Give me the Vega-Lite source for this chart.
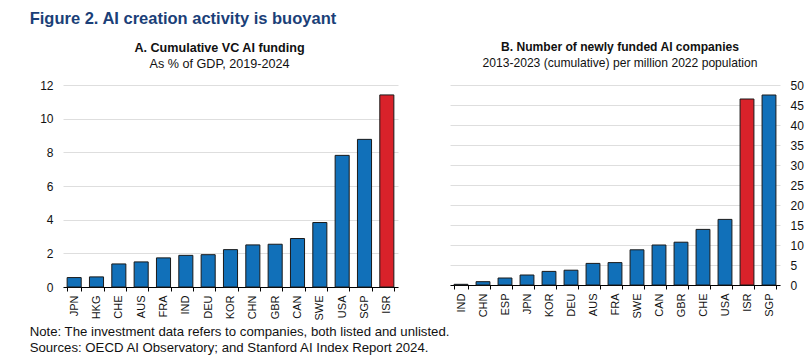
{
  "$schema": "https://vega.github.io/schema/vega-lite/v6.json",
  "background": "white",
  "padding": {"left": 29, "top": 11, "right": 5, "bottom": 2},
  "config": {
    "font": "Liberation Sans",
    "view": {"stroke": null},
    "axis": {"labelFont": "Liberation Sans", "labelFontSize": 11, "labelColor": "#111", "gridColor": "#dedede", "gridWidth": 1},
    "title": {"font": "Liberation Sans"}
  },
  "title": {
    "text": "Figure 2. AI creation activity is buoyant",
    "anchor": "start",
    "fontSize": 16.5,
    "fontWeight": "bold",
    "color": "#1b3f78",
    "offset": 13
  },
  "vconcat": [
    {
      "title": {
        "text": ["Note: The investment data refers to companies, both listed and unlisted.", "Sources: OECD AI Observatory; and Stanford AI Index Report 2024."],
        "orient": "bottom",
        "anchor": "start",
        "fontSize": 13.2,
        "fontWeight": "normal",
        "color": "#111",
        "lineHeight": 16,
        "offset": 6,
        "dx": -10
      },
      "spacing": 46,
      "hconcat": [
        {
          "width": 335,
          "height": 202,
          "title": {
            "text": "A. Cumulative VC AI funding",
            "subtitle": "As % of GDP, 2019-2024",
            "anchor": "middle",
            "frame": "group",
            "fontSize": 12.6,
            "fontWeight": "bold",
            "color": "#111",
            "subtitleFont": "Liberation Sans",
            "subtitleFontSize": 12.6,
            "subtitleColor": "#111",
            "subtitlePadding": 4,
            "offset": 8,
            "dx": -11
          },
          "data": {"values": [
            {"country": "JPN", "value": 0.56},
            {"country": "HKG", "value": 0.6},
            {"country": "CHE", "value": 1.37},
            {"country": "AUS", "value": 1.49},
            {"country": "FRA", "value": 1.73},
            {"country": "IND", "value": 1.88},
            {"country": "DEU", "value": 1.92},
            {"country": "KOR", "value": 2.22},
            {"country": "CHN", "value": 2.5},
            {"country": "GBR", "value": 2.54},
            {"country": "CAN", "value": 2.88},
            {"country": "SWE", "value": 3.83},
            {"country": "USA", "value": 7.82},
            {"country": "SGP", "value": 8.77},
            {"country": "ISR", "value": 11.41}
          ]},
          "mark": {"type": "bar", "stroke": "#1a1a1a", "strokeWidth": 1},
          "encoding": {
            "x": {
              "field": "country", "type": "nominal", "sort": null,
              "scale": {"paddingInner": 0.37, "paddingOuter": 0.185},
              "axis": {"title": null, "labelAngle": -90, "tickBand": "extent", "domainColor": "#000", "tickColor": "#000", "tickSize": 4, "labelPadding": 4, "grid": false}
            },
            "y": {
              "field": "value", "type": "quantitative",
              "scale": {"domain": [0, 12]},
              "axis": {"title": null, "values": [0, 2, 4, 6, 8, 10, 12], "domain": false, "ticks": false, "labelPadding": 10, "labelFontSize": 12}
            },
            "color": {"condition": {"test": "datum.country === 'ISR'", "value": "#d9222a"}, "value": "#1170b9"}
          }
        },
        {
          "width": 330,
          "height": 200,
          "title": {
            "text": "B. Number of newly funded AI companies",
            "subtitle": "2013-2023 (cumulative) per million 2022 population",
            "anchor": "middle",
            "frame": "group",
            "fontSize": 12.1,
            "fontWeight": "bold",
            "color": "#111",
            "subtitleFont": "Liberation Sans",
            "subtitleFontSize": 12.1,
            "subtitleColor": "#111",
            "subtitlePadding": 4,
            "offset": 10,
            "dx": 5
          },
          "data": {"values": [
            {"country": "IND", "value": 0.17},
            {"country": "CHN", "value": 0.83},
            {"country": "ESP", "value": 1.75},
            {"country": "JPN", "value": 2.5},
            {"country": "KOR", "value": 3.4},
            {"country": "DEU", "value": 3.7},
            {"country": "AUS", "value": 5.4},
            {"country": "FRA", "value": 5.6},
            {"country": "SWE", "value": 8.8},
            {"country": "CAN", "value": 10.0},
            {"country": "GBR", "value": 10.7},
            {"country": "CHE", "value": 13.9},
            {"country": "USA", "value": 16.4},
            {"country": "ISR", "value": 46.5},
            {"country": "SGP", "value": 47.5}
          ]},
          "mark": {"type": "bar", "stroke": "#1a1a1a", "strokeWidth": 1},
          "encoding": {
            "x": {
              "field": "country", "type": "nominal", "sort": null,
              "scale": {"paddingInner": 0.37, "paddingOuter": 0.185},
              "axis": {"title": null, "labelAngle": -90, "tickBand": "extent", "domainColor": "#000", "tickColor": "#000", "tickSize": 4, "labelPadding": 4, "grid": false}
            },
            "y": {
              "field": "value", "type": "quantitative",
              "scale": {"domain": [0, 50]},
              "axis": {"title": null, "orient": "right", "values": [0, 5, 10, 15, 20, 25, 30, 35, 40, 45, 50], "domain": false, "ticks": false, "labelPadding": 10, "labelFontSize": 12}
            },
            "color": {"condition": {"test": "datum.country === 'ISR'", "value": "#d9222a"}, "value": "#1170b9"}
          }
        }
      ]
    }
  ]
}
